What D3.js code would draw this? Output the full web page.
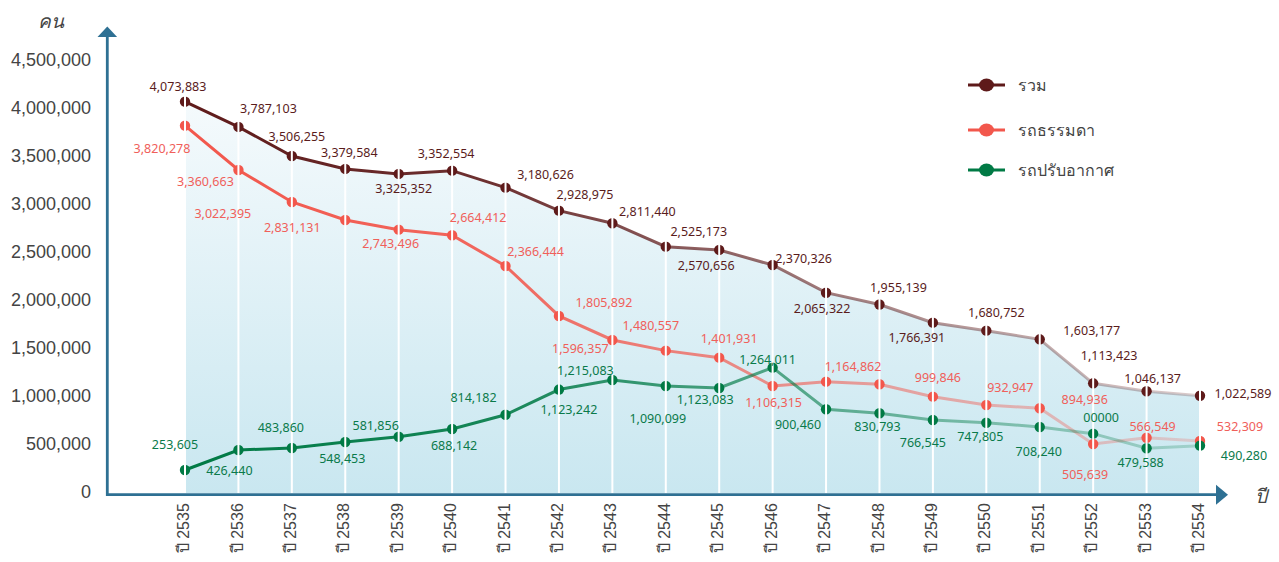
<!DOCTYPE html>
<html>
<head>
<meta charset="utf-8">
<script src="https://cdn.jsdelivr.net/npm/d3@7"></script>
<style>
  body { margin: 0; background: #fff; }
  svg { display: block; font-family: "Noto Sans", "DejaVu Sans", sans-serif; }
</style>
</head>
<body>
<div id="chart"></div>
<script>
// ---------------- DATA ----------------

const years = ["2535", "2536", "2537", "2538", "2539", "2540", "2541", "2542", "2543", "2544",
  "2545", "2546", "2547", "2548", "2549", "2550", "2551", "2552", "2553", "2554"];

const yTicks = [0, 500000, 1000000, 1500000, 2000000, 2500000, 3000000, 3500000, 4000000, 4500000];

const seriesNames = ["รวม", "รถธรรมดา", "รถปรับอากาศ"];

// plotted values
const totalValues = [4059000, 3796000, 3494000, 3359000, 3307000, 3341000, 3164000, 2925000, 2794000, 2550000,
  2516000, 2359000, 2071000, 1948000, 1759000, 1676000, 1586000, 1128000, 1045000, 999000];
const normalValues = [3809000, 3348000, 3015000, 2828000, 2727000, 2669000, 2349000, 1829000, 1579000, 1468000,
  1395000, 1100000, 1145000, 1118000, 989000, 902000, 868000, 496000, 562000, 528000];
const airValues = [226000, 434000, 455000, 517000, 572000, 653000, 801000, 1063000, 1163000, 1100000,
  1079000, 1291000, 858000, 816000, 746000, 718000, 673000, 604000, 452000, 479000];

// labels as printed on the chart
const totalLabels = ["4,073,883", "3,787,103", "3,506,255", "3,379,584", "3,325,352", "3,352,554", "3,180,626",
  "2,928,975", "2,811,440", "2,525,173", "2,570,656", "2,370,326", "2,065,322", "1,955,139", "1,766,391",
  "1,680,752", "1,603,177", "1,113,423", "1,046,137", "1,022,589"];
const normalLabels = ["3,820,278", "3,360,663", "3,022,395", "2,831,131", "2,743,496", "2,664,412", "2,366,444",
  "1,805,892", "1,596,357", "1,480,557", "1,401,931", "1,106,315", "1,164,862", "", "999,846",
  "932,947", "894,936", "505,639", "566,549", "532,309"];
const airLabels = ["253,605", "426,440", "483,860", "548,453", "581,856", "688,142", "814,182",
  "1,123,242", "1,215,083", "1,090,099", "1,123,083", "1,264,011", "900,460", "830,793", "766,545",
  "747,805", "708,240", "00000", "479,588", "490,280"];

// ---------------- LAYOUT ----------------

const width = 1279, height = 562;
const axisColor = "#2e7093";

// label offsets from each marker [dx, dy]
const totalOffsets = [[-7,-15],[30,-18],[5,-19],[4,-16],[5,15],[-6,-17],[40,-13],[26,-16],[35,-12],[33,-15],
  [-13,16],[31,-6],[-4,16],[19,-17],[-16,15],[10,-18],[52,-9],[16,-28],[6,-13],[43,-2]];
const normalOffsets = [[-23,23],[-33,12],[-69,12],[-53,8],[-8,14],[26,-18],[30,-14],[45,-13],[-32,9],[-15,-25],
  [10,-19],[1,17],[27,-15],[0,0],[5,-19],[24,-17],[45,-9],[-8,31],[6,-11],[40,-14]];
const airOffsets = [[-10,-25],[-9,21],[-11,-20],[-3,17],[-23,-11],[2,17],[-32,-17],[10,20],[-27,-9],[-8,33],
  [-14,12],[-5,-8],[-28,15],[-2,13],[-10,23],[-6,14],[-1,25],[8,-16],[-6,14],[44,10]];

const series = [
  { name: seriesNames[0], values: totalValues, labels: totalLabels, offsets: totalOffsets,
    color: "#5e1a1a", text: "#5a1c1c" },
  { name: seriesNames[1], values: normalValues, labels: normalLabels, offsets: normalOffsets,
    color: "#f2574c", text: "#f0605a" },
  { name: seriesNames[2], values: airValues, labels: airLabels, offsets: airOffsets,
    color: "#007a45", text: "#0a7a4a" },
];

const svg = d3.select("#chart").append("svg")
  .attr("width", width)
  .attr("height", height);

const x = d3.scalePoint().domain(years).range([185, 1200]);
const y = d3.scaleLinear().domain([0, 4500000]).range([491.7, 59.3]);

const defs = svg.append("defs");

const areaGrad = defs.append("linearGradient")
  .attr("id", "areaGrad")
  .attr("gradientUnits", "userSpaceOnUse")
  .attr("x1", 0).attr("x2", 0).attr("y1", 80).attr("y2", 494);
areaGrad.append("stop").attr("offset", 0).attr("stop-color", "#f7fbfd");
areaGrad.append("stop").attr("offset", 1).attr("stop-color", "#c9e7f0");

series.forEach((s, i) => {
  const g = defs.append("linearGradient")
    .attr("id", `lineGrad${i}`)
    .attr("gradientUnits", "userSpaceOnUse")
    .attr("x1", 185).attr("x2", 1200).attr("y1", 0).attr("y2", 0);
  g.append("stop").attr("offset", 0).attr("stop-color", s.color).attr("stop-opacity", 1);
  g.append("stop").attr("offset", 0.3).attr("stop-color", s.color).attr("stop-opacity", 0.9);
  g.append("stop").attr("offset", 1).attr("stop-color", s.color).attr("stop-opacity", 0.22);
});

// ---------------- AREA ----------------

svg.append("path")
  .datum(totalValues)
  .attr("fill", "url(#areaGrad)")
  .attr("d", d3.area()
    .x((d, i) => x(years[i]))
    .y0(493)
    .y1(d => y(d)));

// ---------------- AXES ----------------

const yAxis = svg.append("g")
  .attr("transform", "translate(107,0)")
  .call(d3.axisLeft(y).tickValues(yTicks).tickSize(0).tickPadding(16).tickFormat(d3.format(",")));
yAxis.select(".domain").remove();
yAxis.selectAll("text")
  .attr("fill", "#444")
  .style("font-size", "18px");

const xAxis = svg.append("g")
  .attr("transform", "translate(0,494.7)")
  .call(d3.axisBottom(x).tickSize(0).tickFormat(d => `ปี ${d}`));
xAxis.select(".domain").remove();
xAxis.selectAll("text")
  .attr("transform", "rotate(-90)")
  .attr("text-anchor", "end")
  .attr("x", -8.5)
  .attr("y", -2)
  .attr("dy", "0.35em")
  .attr("fill", "#444")
  .style("font-size", "16px");

// ---------------- LINES ----------------

series.forEach((s, i) => {
  svg.append("path")
    .datum(s.values)
    .attr("fill", "none")
    .attr("stroke", `url(#lineGrad${i})`)
    .attr("stroke-width", 3)
    .attr("d", d3.line().x((d, j) => x(years[j])).y(d => y(d)));
});

series.forEach(s => {
  svg.append("g")
    .selectAll("circle")
    .data(s.values)
    .join("circle")
    .attr("cx", (d, j) => x(years[j]))
    .attr("cy", d => y(d))
    .attr("r", 5.2)
    .attr("fill", s.color);
});

// white gridlines sit over everything up to the total line
svg.append("g")
  .selectAll("line")
  .data(totalValues)
  .join("line")
  .attr("x1", (d, i) => x(years[i]))
  .attr("x2", (d, i) => x(years[i]))
  .attr("y1", 493)
  .attr("y2", d => y(d) - 6)
  .attr("stroke", "#fff")
  .attr("stroke-width", 2);

// ---------------- VALUE LABELS ----------------

series.forEach(s => {
  svg.append("g")
    .selectAll("text")
    .data(s.values)
    .join("text")
    .attr("x", (d, j) => x(years[j]) + s.offsets[j][0])
    .attr("y", (d, j) => y(d) + s.offsets[j][1])
    .attr("dy", "0.35em")
    .attr("text-anchor", "middle")
    .attr("fill", s.text)
    .style("font-size", "12.5px")
    .text((d, j) => s.labels[j]);
});

// axis lines with arrows
svg.append("line")
  .attr("x1", 107.3).attr("x2", 107.3).attr("y1", 496).attr("y2", 36)
  .attr("stroke", axisColor).attr("stroke-width", 2.8);
svg.append("path")
  .attr("d", "M97.5,37 L107.3,26.5 L117.1,37 Z")
  .attr("fill", axisColor);
svg.append("line")
  .attr("x1", 106).attr("x2", 1217).attr("y1", 494.7).attr("y2", 494.7)
  .attr("stroke", axisColor).attr("stroke-width", 2.8);
svg.append("path")
  .attr("d", "M1216,484.7 L1228,494.7 L1216,504.7 Z")
  .attr("fill", axisColor);

svg.append("text")
  .attr("x", 51).attr("y", 21).attr("dy", "0.35em")
  .attr("text-anchor", "middle")
  .attr("fill", "#444")
  .style("font-size", "19px")
  .style("font-style", "italic")
  .text("คน");

svg.append("text")
  .attr("x", 1261).attr("y", 496).attr("dy", "0.35em")
  .attr("text-anchor", "middle")
  .attr("fill", "#444")
  .style("font-size", "19px")
  .style("font-style", "italic")
  .text("ปี");

// ---------------- LEGEND ----------------

const legend = svg.append("g")
  .selectAll("g")
  .data(series)
  .join("g")
  .attr("transform", (d, i) => `translate(968,${[85, 130, 170][i]})`);

legend.append("line")
  .attr("x1", 0).attr("x2", 37)
  .attr("stroke", d => d.color)
  .attr("stroke-width", 3);
legend.append("ellipse")
  .attr("cx", 18.5).attr("rx", 7.5).attr("ry", 6.5)
  .attr("fill", d => d.color);
legend.append("text")
  .attr("x", 50).attr("dy", "0.35em")
  .attr("fill", "#444")
  .style("font-size", "16px")
  .text(d => d.name);
</script>
</body>
</html>
